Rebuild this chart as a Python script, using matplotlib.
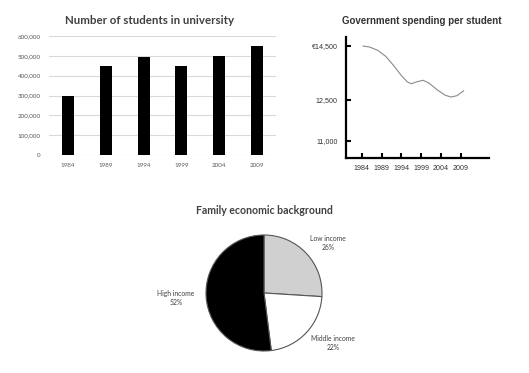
import matplotlib
matplotlib.use("Agg")
import matplotlib.pyplot as plt
from matplotlib.ticker import FuncFormatter

# ---- data ----
bar_years = ["1984", "1989", "1994", "1999", "2004", "2009"]
students = [300000, 450000, 495000, 450000, 500000, 550000]

spend_years = [1984.3, 1986, 1988, 1990, 1992, 1994, 1995.5, 1996.5, 1998, 1999.5,
               2001, 2003, 2005, 2006.5, 2008, 2009.7]
spending = [14500, 14460, 14340, 14120, 13780, 13400, 13170, 13100, 13180, 13230,
            13120, 12880, 12680, 12610, 12660, 12840]
spend_ticks_x = [1984, 1989, 1994, 1999, 2004, 2009]
spend_ticks_y = [11000, 12500, 14500]
spend_tick_labels_y = ["11,000", "12,500", "€14,500"]

pie_labels = ["Low income", "Middle income", "High income"]
pie_values = [26, 22, 52]

W, H = 529, 373
fig = plt.figure(figsize=(W / 100, H / 100), dpi=100)
fig.patch.set_facecolor("white")

def box(l, t, r, b):
    return [l / W, 1 - b / H, (r - l) / W, (b - t) / H]

TITLE_FONT = "Lato"
# ---- bar chart ----
ax1 = fig.add_axes(box(49, 36, 276, 155))
x = range(len(bar_years))
ax1.bar(x, students, width=0.32, color="black", zorder=3)
ax1.set_xlim(-0.5, len(bar_years) - 0.5)
ax1.set_ylim(0, 600000)
ax1.set_yticks(range(0, 600001, 100000))
ax1.yaxis.set_major_formatter(FuncFormatter(lambda v, p: f"{int(v):,}"))
ax1.set_xticks(list(x))
ax1.set_xticklabels(bar_years)
ax1.grid(axis="y", color="#d9d9d9", linewidth=0.8, zorder=0)
for s in ax1.spines.values():
    s.set_visible(False)
ax1.tick_params(length=0, labelsize=4.5, labelcolor="#595959", pad=6)
for lab in ax1.get_xticklabels() + ax1.get_yticklabels():
    lab.set_family(TITLE_FONT)
fig.text(150 / W, 1 - 21 / H, "Number of students in university", ha="center", va="center",
         fontsize=8.3, fontweight="bold", color="#404040", family=TITLE_FONT)

# ---- line chart ----
ax2 = fig.add_axes(box(346, 37, 489, 158))
ax2.plot(spend_years, spending, color="#8a8a8a", linewidth=0.8)
ax2.set_xlim(1980, 2016.1)
ax2.set_ylim(10352, 14833)
ax2.set_xticks(spend_ticks_x)
ax2.set_xticklabels([str(v) for v in spend_ticks_x])
ax2.set_yticks(spend_ticks_y)
ax2.set_yticklabels(spend_tick_labels_y)
for side in ["top", "right"]:
    ax2.spines[side].set_visible(False)
for side in ["left", "bottom"]:
    ax2.spines[side].set_linewidth(1.6)
    ax2.spines[side].set_color("black")
ax2.tick_params(direction="in", length=3.5, width=1.5, labelsize=5.1, labelcolor="#333333")
ax2.tick_params(axis="x", pad=5)
ax2.tick_params(axis="y", pad=6)
for lab in ax2.get_xticklabels() + ax2.get_yticklabels():
    lab.set_family("Liberation Sans")
fig.text(422 / W, 1 - 21 / H, "Government spending per student", ha="center", va="center",
         fontsize=7.0, fontweight="bold", color="#333333", family="Liberation Sans")

# ---- pie chart ----
cx, cy, r = 264, 293, 58
ax3 = fig.add_axes(box(cx - r, cy - r, cx + r, cy + r))
ax3.pie(pie_values, colors=["#d0d0d0", "white", "black"], startangle=90, counterclock=False,
        wedgeprops=dict(edgecolor="#555555", linewidth=0.8))
ax3.set_xlim(-1, 1)
ax3.set_ylim(-1, 1)
ax3.set_aspect("equal")
ax3.axis("off")
label_pos = [(1.10, 0.86), (1.19, -0.86), (-1.52, -0.09)]
for name, val, (lx, ly) in zip(pie_labels, pie_values, label_pos):
    ax3.text(lx, ly, f"{name}\n{val}%", ha="center", va="center", fontsize=4.9,
             color="#404040", family=TITLE_FONT, linespacing=1.4, clip_on=False)
fig.text(264 / W, 1 - 210 / H, "Family economic background", ha="center", va="center",
         fontsize=7.6, fontweight="bold", color="#404040", family=TITLE_FONT)

fig.savefig("out.png", dpi=100, facecolor="white")
